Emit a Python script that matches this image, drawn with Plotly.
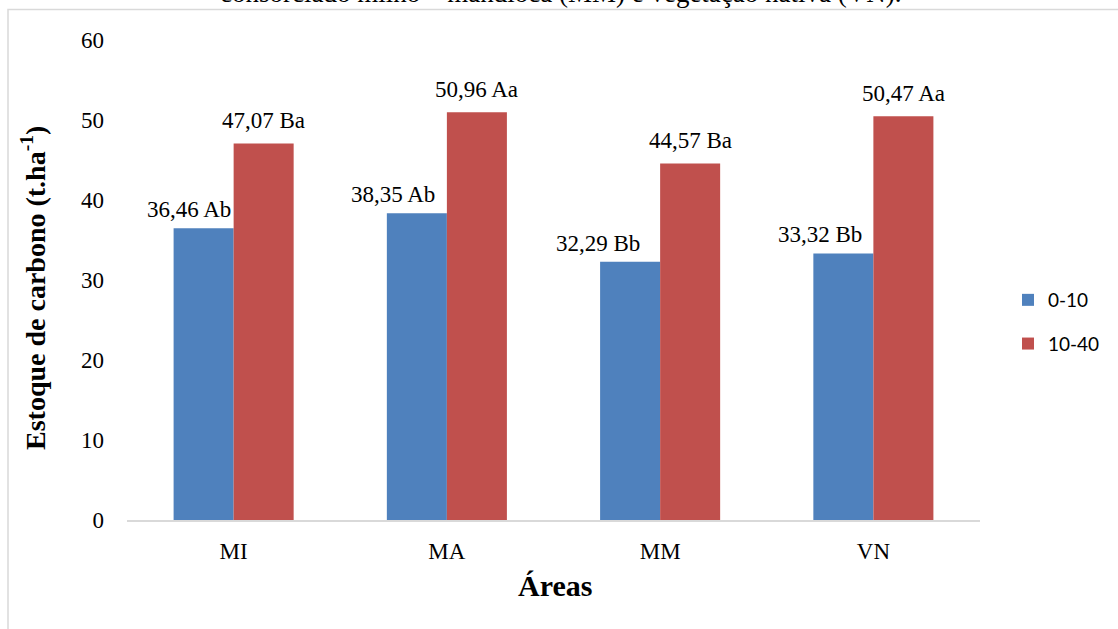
import plotly.graph_objects as go

# Carbon stock by area and soil depth
areas = ["MI", "MA", "MM", "VN"]
depths = ["0-10", "10-40"]
stock_0_10 = [36.46, 38.35, 32.29, 33.32]
stock_10_40 = [47.07, 50.96, 44.57, 50.47]
letters_0_10 = ["Ab", "Ab", "Bb", "Bb"]
letters_10_40 = ["Ba", "Aa", "Ba", "Aa"]
y_ticks = [0, 10, 20, 30, 40, 50, 60]

BLUE = "#4F81BD"
RED = "#C0504D"
SERIF = "Liberation Serif, Times New Roman, serif"

W, H = 1118, 629
ML, MR, MT, MB = 127, 138, 40, 109
PW, PH = W - ML - MR, H - MT - MB


def px_x(p):
    return (p - ML) / PW


def px_y(p):
    return (H - MB - p) / PH


def fmt(v):
    return f"{v:.2f}".replace(".", ",")


fig = go.Figure()
fig.add_trace(go.Bar(x=areas, y=stock_0_10, name=depths[0], marker_color=BLUE,
                     marker_line_width=0, legendgroup="a"))
fig.add_trace(go.Bar(x=areas, y=stock_10_40, name=depths[1], marker_color=RED,
                     marker_line_width=0, legendgroup="b"))

# value labels above each bar (left-series labels nudged left)
bar_px = 60
left_nudge = [-15, -24, -32, -23]
for i, a in enumerate(areas):
    fig.add_annotation(x=a, y=stock_0_10[i], text=f"{fmt(stock_0_10[i])} {letters_0_10[i]}",
                       showarrow=False, yanchor="bottom", xanchor="center",
                       xshift=-bar_px / 2 + left_nudge[i], yshift=4,
                       font=dict(family=SERIF, size=23, color="#000"))
    fig.add_annotation(x=a, y=stock_10_40[i], text=f"{fmt(stock_10_40[i])} {letters_10_40[i]}",
                       showarrow=False, yanchor="bottom", xanchor="center",
                       xshift=bar_px / 2, yshift=8,
                       font=dict(family=SERIF, size=23, color="#000"))

# axis titles
fig.add_annotation(x=px_x(33), y=px_y(288), xref="paper", yref="paper",
                   text="<b>Estoque de carbono (t.ha<sup>-1</sup>)</b>", textangle=-90,
                   showarrow=False, xanchor="center", yanchor="middle",
                   font=dict(family=SERIF, size=28, color="#000"))
fig.add_annotation(x=px_x(555), y=px_y(585), xref="paper", yref="paper",
                   text="<b>Áreas</b>", showarrow=False, xanchor="center", yanchor="middle",
                   font=dict(family=SERIF, size=30, color="#000"))

# caption line running off the top of the page
fig.add_annotation(x=px_x(561), y=px_y(-7), xref="paper", yref="paper",
                   text="consorciado milho – mandioca (MM) e vegetação nativa (VN).",
                   showarrow=False, xanchor="center", yanchor="middle",
                   font=dict(family=SERIF, size=27, color="#000"))

# chart frame
fig.add_shape(type="rect", xref="paper", yref="paper",
              x0=px_x(8), x1=px_x(W + 20), y0=px_y(H + 20), y1=px_y(9.5),
              line=dict(color="#D9D9D9", width=1.5), fillcolor="rgba(0,0,0,0)",
              layer="below")

fig.update_layout(
    width=W, height=H,
    margin=dict(l=ML, r=MR, t=MT, b=MB),
    paper_bgcolor="white", plot_bgcolor="white",
    barmode="group", bargap=0.437, bargroupgap=0,
    showlegend=True,
    legend=dict(x=px_x(1008), y=px_y(322), xanchor="left", yanchor="middle",
                font=dict(family="Lato, Carlito, sans-serif", size=19, color="#000"),
                traceorder="grouped", tracegroupgap=16, itemwidth=30,
                bgcolor="rgba(0,0,0,0)"),
    xaxis=dict(showline=True, linecolor="#D9D9D9", linewidth=1.5, ticks="",
               showgrid=False, ticklabelstandoff=10,
               tickfont=dict(family=SERIF, size=23, color="#000")),
    yaxis=dict(range=[0, 60], tickvals=y_ticks, showgrid=False, showline=False,
               zeroline=False, ticks="", ticklabelstandoff=22,
               tickfont=dict(family=SERIF, size=23, color="#000")),
)

fig.write_html("out.html")
